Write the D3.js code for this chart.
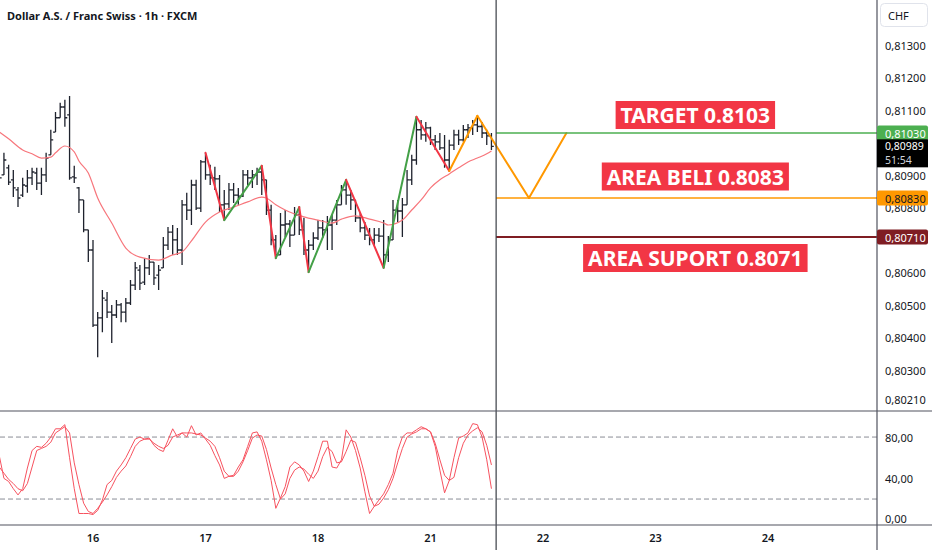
<!DOCTYPE html>
<html>
<head>
<meta charset="utf-8">
<script src="https://cdn.jsdelivr.net/npm/d3@7"></script>
<style>
body{margin:0;background:#fff}
svg{display:block}
text{font-family:"Noto Sans",Roboto,sans-serif;fill:#131722}
</style>
</head>
<body>
<svg id="chart" width="932" height="550"></svg>
<script>
// bar index = hours since day 16 00:00, first visible bar is -20
var barStart = -20;
var opens = [0.80910,0.80901,0.80923,0.80886,0.80855,0.80839,0.80867,0.80892,0.80907,0.80876,
  0.80901,0.80963,0.81033,0.81077,0.81110,0.81086,0.80895,0.80861,0.80824,0.80732,
  0.80670,0.80439,0.80461,0.80516,0.80479,0.80470,0.80501,0.80479,0.80507,0.80562,
  0.80608,0.80571,0.80615,0.80633,0.80593,0.80615,0.80685,0.80725,0.80701,0.80670,
  0.80809,0.80793,0.80870,0.80799,0.80941,0.80901,0.80892,0.80889,0.80809,0.80812,
  0.80855,0.80839,0.80836,0.80901,0.80892,0.80901,0.80910,0.80886,0.80793,0.80701,
  0.80655,0.80747,0.80750,0.80716,0.80778,0.80732,0.80670,0.80685,0.80707,0.80738,
  0.80732,0.80747,0.80762,0.80809,0.80855,0.80839,0.80824,0.80769,0.80738,0.80716,
  0.80701,0.80716,0.80713,0.80655,0.80701,0.80793,0.80790,0.80809,0.80886,0.80947,
  0.81040,0.81024,0.81046,0.81009,0.81003,0.80984,0.80947,0.80993,0.81024,0.81009,
  0.81040,0.81046,0.81055,0.81050,0.81030,0.81021];
var highs = [0.80932,0.80969,0.80932,0.80916,0.80864,0.80892,0.80916,0.80923,0.80923,0.80923,
  0.80969,0.81040,0.81095,0.81123,0.81132,0.81144,0.80929,0.80864,0.80824,0.80732,
  0.80701,0.80479,0.80547,0.80541,0.80501,0.80516,0.80507,0.80522,0.80578,0.80633,
  0.80624,0.80645,0.80655,0.80633,0.80624,0.80710,0.80741,0.80747,0.80738,0.80824,
  0.80846,0.80886,0.80886,0.80947,0.80969,0.80932,0.80926,0.80901,0.80855,0.80876,
  0.80876,0.80861,0.80916,0.80916,0.80916,0.80923,0.80929,0.80886,0.80809,0.80716,
  0.80784,0.80793,0.80762,0.80802,0.80802,0.80769,0.80701,0.80725,0.80762,0.80762,
  0.80775,0.80778,0.80824,0.80870,0.80886,0.80855,0.80824,0.80784,0.80756,0.80738,
  0.80738,0.80738,0.80762,0.80713,0.80824,0.80824,0.80830,0.80916,0.80963,0.81080,
  0.81070,0.81064,0.81049,0.81024,0.81030,0.81024,0.81009,0.81040,0.81040,0.81055,
  0.81058,0.81070,0.81083,0.81064,0.81040,0.81030];
var lows = [0.80870,0.80901,0.80870,0.80833,0.80802,0.80833,0.80846,0.80870,0.80855,0.80839,
  0.80879,0.80963,0.81033,0.81077,0.81049,0.80886,0.80876,0.80784,0.80725,0.80633,
  0.80433,0.80340,0.80417,0.80461,0.80384,0.80461,0.80448,0.80448,0.80501,0.80547,
  0.80547,0.80562,0.80593,0.80562,0.80547,0.80615,0.80670,0.80655,0.80655,0.80624,
  0.80762,0.80747,0.80793,0.80787,0.80886,0.80870,0.80855,0.80787,0.80762,0.80793,
  0.80815,0.80809,0.80833,0.80870,0.80861,0.80870,0.80839,0.80778,0.80685,0.80645,
  0.80655,0.80710,0.80679,0.80716,0.80716,0.80655,0.80602,0.80670,0.80701,0.80707,
  0.80670,0.80670,0.80747,0.80809,0.80809,0.80793,0.80756,0.80725,0.80701,0.80685,
  0.80685,0.80695,0.80615,0.80633,0.80701,0.80756,0.80710,0.80809,0.80870,0.80932,
  0.81009,0.81003,0.80993,0.80978,0.80978,0.80923,0.80913,0.80978,0.80993,0.81003,
  0.81015,0.81024,0.81033,0.81015,0.80993,0.80978];
var closes = [0.80892,0.80947,0.80879,0.80861,0.80830,0.80870,0.80892,0.80910,0.80876,0.80901,
  0.80953,0.81009,0.81077,0.81110,0.81077,0.80892,0.80892,0.80824,0.80732,0.80670,
  0.80439,0.80461,0.80522,0.80479,0.80470,0.80501,0.80479,0.80507,0.80562,0.80615,
  0.80568,0.80615,0.80633,0.80584,0.80608,0.80685,0.80725,0.80701,0.80670,0.80809,
  0.80793,0.80870,0.80799,0.80941,0.80901,0.80892,0.80889,0.80809,0.80812,0.80855,
  0.80839,0.80836,0.80901,0.80892,0.80901,0.80910,0.80886,0.80793,0.80701,0.80655,
  0.80747,0.80750,0.80716,0.80778,0.80732,0.80670,0.80685,0.80707,0.80738,0.80732,
  0.80747,0.80762,0.80809,0.80855,0.80839,0.80824,0.80769,0.80738,0.80716,0.80701,
  0.80716,0.80713,0.80655,0.80701,0.80793,0.80790,0.80809,0.80886,0.80947,0.81040,
  0.81024,0.81046,0.81009,0.81003,0.80984,0.80947,0.80993,0.81024,0.81009,0.81040,
  0.81046,0.81055,0.81050,0.81030,0.81021,0.80989];

// moving average
var maIdx = [-20,-18,-15,-13,-11,-9,-8,-6,-4,-3,-1,1,4,7,10,14,17,19,21,24,27,30,33,36,37,39,41,45,48,51,53,56,59,62,63,66,68,70,72,74,76,78,80,82,84,85];
var maVals = [0.81033,0.81012,0.80978,0.80966,0.80953,0.80956,0.80969,0.80990,0.80972,0.80944,
  0.80907,0.80830,0.80753,0.80676,0.80648,0.80639,0.80655,0.80664,0.80698,0.80756,
  0.80787,0.80802,0.80818,0.80833,0.80830,0.80809,0.80793,0.80772,0.80762,0.80753,
  0.80765,0.80775,0.80765,0.80753,0.80747,0.80762,0.80793,0.80824,0.80861,0.80886,
  0.80904,0.80923,0.80941,0.80953,0.80966,0.80975];

// stochastic %K and %D, one value per bar
var stochK = [62,40,37,30,24,30,50,67,71,70,74,80,88,88,92,60,30,6,6,6,
  5,9,19,34,38,47,53,60,69,78,80,78,79,72,68,66,77,88,80,84,
  80,91,82,84,78,72,62,53,40,42,43,51,58,71,84,85,76,58,38,11,
  21,32,51,56,53,47,37,47,61,76,76,51,50,58,87,80,67,50,27,6,
  13,19,25,34,45,67,80,84,84,87,90,88,85,71,48,26,38,60,79,81,
  84,93,92,80,58,30];
var stochD = [51,45,39,35,30,28,35,51,67,69,71,75,84,87,90,84,55,34,16,8,
  6,11,17,24,32,41,47,52,61,71,76,78,78,74,71,69,72,80,82,84,
  84,84,83,82,79,76,71,60,47,42,42,47,56,67,79,82,81,68,50,34,
  20,25,40,48,51,49,44,40,47,61,70,66,55,56,66,77,75,60,43,23,
  13,15,21,29,40,55,69,80,83,85,88,88,85,74,58,43,38,41,60,74,
  82,86,89,85,72,53];

// zigzag pivots (bar index, price) and the projected path
var zigIdx = [24,28,36,39,44,46,54,62,69,76,82,93,101];
var zigPrice = [0.80969,0.80762,0.80929,0.80645,0.80802,0.80602,0.80886,0.80615,0.81080,0.80913,0.81083,0.8083,0.8103];
var zigColor = ["#f23645","#43a047","#f23645","#43a047","#f23645","#43a047","#f23645","#43a047","#f23645","#ff9800","#ff9800","#ff9800"];

var dayIdx = [0,24,48,72,96,120,144];
var dayLabels = ["16","17","18","21","22","23","24"];
var priceTicks = [0.8130,0.8120,0.8110,0.8100,0.8090,0.8080,0.8070,0.8060,0.8050,0.8040,0.8030,0.8021];
var oscTicks = [0,40,80];
var oscBands = [20,80];

var levelPrice = [0.8103,0.8083,0.8071];
var levelText = ["TARGET 0.8103","AREA BELI 0.8083","AREA SUPORT 0.8071"];
var levelColor = ["#4caf50","#ff9800","#7f1d23"];
var levelTagInk = ["#fff","#131722","#fff"];
var lastPrice = 0.80989;
var countdown = "51:54";
var nowIdx = 86;

var W = 932, H = 550, axisX = 877, priceBottom = 411, oscBottom = 525;
var svg = d3.select("#chart");

var x = d3.scaleLinear().domain([0,24]).range([93,205.5]);
var y = d3.scaleLinear().domain([0.8021,0.8130]).range([399.5,45.25]);
var yo = d3.scaleLinear().domain([0,100]).range([519.7,416.4]);
var fmt = function(v){ return d3.format(".5f")(v).replace(".",","); };

var defs = svg.append("defs");
defs.append("clipPath").attr("id","pclip").append("rect").attr("x",0).attr("y",0).attr("width",axisX).attr("height",priceBottom);
defs.append("clipPath").attr("id","oclip").append("rect").attr("x",0).attr("y",priceBottom).attr("width",axisX).attr("height",oscBottom-priceBottom);

var pane = svg.append("g").attr("clip-path","url(#pclip)");

// OHLC bars
var bars = opens.map(function(o,k){ return {i:barStart+k,o:o,h:highs[k],l:lows[k],c:closes[k]}; });
pane.append("g").selectAll("path").data(bars).enter().append("path")
  .attr("d",function(d){
    var cx = x(d.i);
    return "M"+cx+","+y(d.h)+"V"+y(d.l)+"M"+(cx-2.4)+","+y(d.o)+"H"+cx+"M"+cx+","+y(d.c)+"H"+(cx+2.4);
  })
  .attr("stroke","#1e222d").attr("stroke-width",1.3).attr("fill","none");

// moving average
var maLine = d3.line().x(function(d){return x(d[0]);}).y(function(d){return y(d[1]);}).curve(d3.curveMonotoneX);
pane.append("path").datum(maIdx.map(function(v,k){return [v,maVals[k]];}))
  .attr("d",maLine).attr("fill","none").attr("stroke","#f7767c").attr("stroke-width",1.2);

// zigzag
var segs = zigColor.map(function(c,k){ return {x1:zigIdx[k],y1:zigPrice[k],x2:zigIdx[k+1],y2:zigPrice[k+1],c:c}; });
pane.append("g").selectAll("line").data(segs).enter().append("line")
  .attr("x1",function(d){return x(d.x1);}).attr("y1",function(d){return y(d.y1);})
  .attr("x2",function(d){return x(d.x2);}).attr("y2",function(d){return y(d.y2);})
  .attr("stroke",function(d){return d.c;}).attr("stroke-width",2).attr("stroke-linecap","round");

// level lines
pane.append("g").selectAll("line").data(levelPrice).enter().append("line")
  .attr("x1",x(nowIdx)).attr("x2",axisX)
  .attr("y1",function(d){return y(d);}).attr("y2",function(d){return y(d);})
  .attr("stroke",function(d,k){return levelColor[k];})
  .attr("stroke-width",function(d,k){return k==2?2:1.5;});

// level captions
var capOffset = [-18,-21.5,21];
levelText.forEach(function(t,k){
  var g = pane.append("g");
  var tx = g.append("text").text(t).attr("x",x(128.5)).attr("y",y(levelPrice[k])+capOffset[k])
    .attr("text-anchor","middle").attr("dominant-baseline","central")
    .style("font-size","21px").style("font-weight","700").style("fill","#fff");
  var bb = tx.node().getBBox();
  g.insert("rect","text").attr("x",bb.x-5).attr("y",y(levelPrice[k])+capOffset[k]-14)
    .attr("width",bb.width+10).attr("height",28).attr("fill","#f23645");
});

// oscillator pane
var osc = svg.append("g").attr("clip-path","url(#oclip)");
osc.selectAll("line.band").data(oscBands).enter().append("line").attr("class","band")
  .attr("x1",0).attr("x2",axisX).attr("y1",function(d){return yo(d);}).attr("y2",function(d){return yo(d);})
  .attr("stroke","#8a8d96").attr("stroke-dasharray","5,3").attr("stroke-width",1);
var oline = d3.line().x(function(d,k){return x(barStart+k);}).y(function(d){return yo(d);});
[stochD,stochK].forEach(function(s){
  osc.append("path").datum(s).attr("d",oline).attr("fill","none").attr("stroke","#f7525f").attr("stroke-width",1);
});

// frame lines
svg.append("line").attr("x1",x(nowIdx)).attr("x2",x(nowIdx)).attr("y1",0).attr("y2",H).attr("stroke","#3a3d45").attr("stroke-width",1.2);
svg.append("line").attr("x1",axisX).attr("x2",axisX).attr("y1",0).attr("y2",H).attr("stroke","#50535e").attr("stroke-width",1.2);
[priceBottom,oscBottom].forEach(function(v){
  svg.append("line").attr("x1",0).attr("x2",W).attr("y1",v).attr("y2",v).attr("stroke","#50535e").attr("stroke-width",1.2);
});

// price axis: labels that sit fully under a tag are not shown
var tagPrices = levelPrice.concat([lastPrice]);
var shownTicks = priceTicks.filter(function(p){
  return !tagPrices.some(function(q){ return Math.abs(y(p)-y(q)) < 8.5; });
});
var ax = svg.append("g");
ax.selectAll("text").data(shownTicks).enter().append("text")
  .attr("x",885).attr("y",function(d){return y(d);}).attr("dominant-baseline","central")
  .style("font-size","11px").text(fmt);
ax.append("rect").attr("x",880.5).attr("y",3.5).attr("width",47).attr("height",23).attr("rx",4)
  .attr("fill","#fff").attr("stroke","#e0e3eb");
ax.append("text").attr("x",888).attr("y",15.5).attr("dominant-baseline","central").style("font-size","11px").text("CHF");

// oscillator axis
svg.append("g").selectAll("text").data(oscTicks).enter().append("text")
  .attr("x",885).attr("y",function(d){return yo(d)-(d==0?1:0);}).attr("dominant-baseline","central")
  .style("font-size","11px").text(function(d){return d3.format(".2f")(d).replace(".",",");});

// time axis
svg.append("g").selectAll("text").data(dayIdx).enter().append("text")
  .attr("x",function(d){return x(d);}).attr("y",537).attr("text-anchor","middle").attr("dominant-baseline","central")
  .style("font-size","11px").style("font-weight","600").text(function(d,k){return dayLabels[k];});

// price tags
var tags = svg.append("g");
levelPrice.forEach(function(p,k){
  tags.append("rect").attr("x",axisX).attr("y",y(p)-7.5).attr("width",51).attr("height",15).attr("rx",2).attr("fill",levelColor[k]);
  tags.append("text").attr("x",885).attr("y",y(p)).attr("dominant-baseline","central")
    .style("font-size","11px").style("fill",levelTagInk[k]).text(fmt(p));
});
tags.append("rect").attr("x",axisX).attr("y",y(lastPrice)-7).attr("width",51).attr("height",28).attr("fill","#000");
tags.append("text").attr("x",885).attr("y",y(lastPrice)-0.5).attr("dominant-baseline","central")
  .style("font-size","10.5px").style("fill","#fff").text(fmt(lastPrice));
tags.append("text").attr("x",885).attr("y",y(lastPrice)+13.5).attr("dominant-baseline","central")
  .style("font-size","10.5px").style("fill","#d1d4dc").text(countdown);

// title
svg.append("text").attr("x",7).attr("y",15).attr("dominant-baseline","central")
  .style("font-size","11px").style("font-weight","700").text("Dollar A.S. / Franc Swiss · 1h · FXCM");
</script>
</body>
</html>
